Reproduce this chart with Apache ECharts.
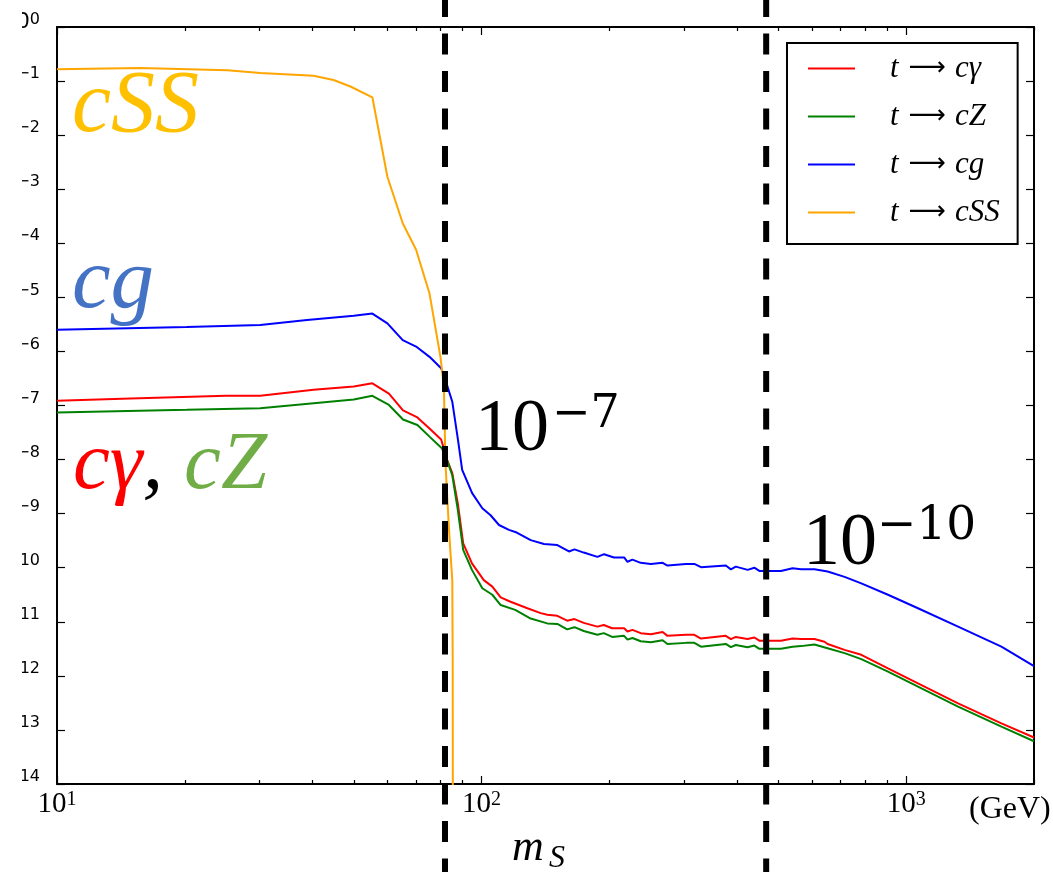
<!DOCTYPE html>
<html>
<head>
<meta charset="utf-8">
<script src="https://cdn.jsdelivr.net/npm/echarts@6/dist/echarts.min.js"></script>
<style>
  html, body { margin: 0; padding: 0; background: #fff; }
  #chart { width: 1053px; height: 872px; }
</style>
</head>
<body>
<div id="chart"></div>
<script>
// Scalar mass m_S (GeV) and log10 of the branching ratio for each top decay channel
const cGammaMass = [10, 14.9, 25, 30.1, 40.2, 50, 55.3, 60.5, 65.3, 70.6, 75.5, 80.3, 82.9, 85.3, 87.9, 90.5, 94.9, 101.2, 106, 110.9, 117, 128.2, 137.8, 142.8, 150.8, 159, 165.5, 174, 187.4, 194, 203, 216.6, 220.6, 226.6, 237, 250.4, 266.9, 274, 303, 317, 328.6, 376, 386.4, 397, 423, 439, 451, 507, 540, 565, 608, 642, 653, 716, 784, 906, 1066, 1325, 1676, 2000];
const cGammaLogBR = [-6.91, -6.87, -6.82, -6.82, -6.71, -6.65, -6.59, -6.78, -7.09, -7.22, -7.43, -7.63, -8.00, -8.25, -8.81, -9.55, -9.92, -10.23, -10.35, -10.55, -10.63, -10.75, -10.84, -10.87, -10.89, -10.98, -10.95, -11.02, -11.09, -11.06, -11.12, -11.12, -11.18, -11.15, -11.21, -11.23, -11.19, -11.26, -11.24, -11.24, -11.31, -11.26, -11.32, -11.28, -11.32, -11.29, -11.35, -11.35, -11.31, -11.32, -11.32, -11.37, -11.41, -11.52, -11.61, -11.86, -12.14, -12.51, -12.88, -13.14];

const cZMass = [10, 20.2, 30.1, 50, 55.3, 60.5, 65.3, 70.6, 75.5, 80.6, 82.9, 85.3, 87.9, 90.5, 94.9, 100.4, 106, 110.9, 120, 130.5, 142.8, 150.8, 159, 165.5, 174, 187.4, 194, 203, 216.6, 220.6, 226.6, 237, 250.4, 266.9, 274, 303, 317, 328.6, 376, 386.4, 397, 423, 439, 451, 507, 540, 565, 608, 653, 716, 784, 906, 1066, 1325, 1676, 2000];
const cZLogBR = [-7.13, -7.08, -7.05, -6.89, -6.82, -6.99, -7.26, -7.36, -7.58, -7.79, -8.01, -8.29, -8.93, -9.67, -10.04, -10.38, -10.50, -10.69, -10.78, -10.94, -11.03, -11.04, -11.14, -11.10, -11.17, -11.24, -11.21, -11.28, -11.26, -11.33, -11.30, -11.36, -11.38, -11.34, -11.41, -11.39, -11.39, -11.46, -11.41, -11.47, -11.43, -11.47, -11.44, -11.50, -11.50, -11.46, -11.45, -11.42, -11.49, -11.58, -11.69, -11.92, -12.20, -12.57, -12.94, -13.21];

const cgMass = [10, 20.2, 30.1, 38.8, 50, 55.3, 60, 65.2, 70.1, 75.4, 80.3, 82.2, 85.3, 88, 90, 95, 100.4, 105, 109.9, 116, 121, 130.5, 140.3, 150.8, 160.6, 165.5, 174, 187.4, 194.3, 205, 216.6, 220.6, 226.6, 237, 250.4, 266.9, 274, 303, 317, 328.6, 376, 386.4, 397, 423.4, 438.8, 451, 507, 540, 565, 608, 653, 716, 784, 906, 1066, 1325, 1676, 2000];
const cgLogBR = [-5.60, -5.55, -5.51, -5.42, -5.34, -5.30, -5.48, -5.79, -5.91, -6.10, -6.31, -6.53, -6.93, -7.64, -8.19, -8.62, -8.90, -9.03, -9.21, -9.30, -9.35, -9.49, -9.56, -9.58, -9.70, -9.66, -9.72, -9.80, -9.75, -9.81, -9.81, -9.89, -9.85, -9.91, -9.93, -9.91, -9.96, -9.93, -9.93, -9.99, -9.96, -10.03, -9.98, -10.04, -10.00, -10.06, -10.06, -10.01, -10.03, -10.03, -10.07, -10.17, -10.29, -10.50, -10.75, -11.09, -11.46, -11.82];

const cSSMass = [10, 15.7, 25.2, 30.1, 40.2, 44.8, 49.1, 55.3, 60.0, 65.2, 70.1, 75.4, 80.0, 81.5, 82.2, 83.8, 85.3, 85.5, 85.6];
const cSSLogBR = [-0.78, -0.76, -0.80, -0.85, -0.90, -0.98, -1.10, -1.30, -2.77, -3.63, -4.12, -4.93, -6.10, -6.65, -8.06, -9.30, -10.23, -11.70, -16.0];

// Masses marked with vertical dashed lines
const thresholdMass = [82, 468];

// Tick positions
const majorMassTicks = [10, 100, 1000];
const minorMassTicks = [20, 30, 40, 50, 60, 70, 80, 90, 200, 300, 400, 500, 600, 700, 800, 900, 2000];
const brTickExponents = [0, -1, -2, -3, -4, -5, -6, -7, -8, -9, -10, -11, -12, -13, -14];

// Channel final states (legend reads "t → <final state>")
const finalStates = ['c\u03b3', 'cZ', 'cg', 'cSS'];
const seriesNames = finalStates.map(f => 't \u2192 ' + f);
const seriesColors = ['#ff0000', '#008000', '#0000ff', '#ffa500'];

const toPoints = (mass, logBR) => mass.map((m, i) => [m, Math.pow(10, logBR[i])]);
const curves = [
  toPoints(cGammaMass, cGammaLogBR),
  toPoints(cZMass, cZLogBR),
  toPoints(cgMass, cgLogBR),
  toPoints(cSSMass, cSSLogBR)
];

const brTicks = brTickExponents.map(e => Math.pow(10, e));
const massMin = 10, massMax = 2000, brMin = 1e-14, brMax = 1;

const serif = '"Liberation Serif", "DejaVu Serif", serif';
const dvSerif = '"DejaVu Serif", serif';
const sans = '"DejaVu Sans", sans-serif';

function powerLabel(v) {
  const e = Math.round(Math.log10(v));
  const s = e < 0 ? '\u2212' + (-e) : String(e);
  return '{b|10}{s|' + s + '}';
}

function massAxis(position, ticks, len, showLine, showLabel) {
  return {
    type: 'log', logBase: 10, min: massMin, max: massMax, position: position,
    axisLine: { show: showLine, onZero: false, lineStyle: { color: '#000', width: 2 } },
    axisTick: { show: true, inside: true, length: len, customValues: ticks, lineStyle: { color: '#000', width: 1.2 } },
    axisLabel: showLabel ? {
      show: true, customValues: majorMassTicks, margin: 6, formatter: powerLabel,
      rich: {
        b: { fontFamily: serif, fontSize: 29, lineHeight: 29, color: '#000', verticalAlign: 'bottom', padding: [5, 0, 0, 0] },
        s: { fontFamily: serif, fontSize: 20, lineHeight: 20, color: '#000', verticalAlign: 'top' }
      }
    } : { show: false },
    splitLine: { show: false },
    minorTick: { show: false }
  };
}

function brAxis(position, showLabel) {
  return {
    type: 'log', logBase: 10, min: brMin, max: brMax, position: position,
    axisLine: { show: true, onZero: false, lineStyle: { color: '#000', width: 2 } },
    axisTick: { show: true, inside: true, length: 8, customValues: brTicks, lineStyle: { color: '#000', width: 1.2 } },
    axisLabel: showLabel ? {
      show: true, customValues: brTicks, margin: 17, formatter: powerLabel, padding: [0, 0, 9, 0],
      rich: {
        b: { fontFamily: sans, fontSize: 21, lineHeight: 21, color: '#000', verticalAlign: 'bottom', padding: [6, 0, 0, 0] },
        s: { fontFamily: sans, fontSize: 16, lineHeight: 16, color: '#000', verticalAlign: 'top' }
      }
    } : { show: false },
    splitLine: { show: false }
  };
}

const chart = echarts.init(document.getElementById('chart'), null, { renderer: 'canvas' });

const lineSeries = curves.map((pts, i) => ({
  name: seriesNames[i],
  type: 'line',
  xAxisIndex: 0, yAxisIndex: 0,
  data: pts,
  symbol: 'none',
  showSymbol: false,
  smooth: false,
  color: seriesColors[i],
  lineStyle: { color: seriesColors[i], width: 2 },
  z: 3,
  animation: false
}));

chart.setOption({
  animation: false,
  backgroundColor: '#fff',
  grid: { left: 57, right: 19, top: 27, bottom: 88, outerBoundsMode: 'none', containLabel: false },
  xAxis: [
    massAxis('bottom', majorMassTicks, 8, true, true),
    massAxis('bottom', minorMassTicks, 4, false, false),
    massAxis('top', majorMassTicks, 8, true, false),
    massAxis('top', minorMassTicks, 4, false, false)
  ],
  yAxis: [brAxis('left', true), brAxis('right', false)],
  legend: {
    orient: 'vertical', left: 787, top: 43,
    padding: [10, 18, 16, 21],
    icon: 'rect',
    itemWidth: 47, itemHeight: 2, itemGap: 17,
    borderColor: '#000', borderWidth: 2, backgroundColor: '#fff',
    data: seriesNames,
    formatter: name => {
      const f = finalStates[seriesNames.indexOf(name)];
      return '{i|t}{a|\u27f6}{i|' + f + '}';
    },
    textStyle: {
      color: '#000', padding: [0, 0, 0, 30], lineHeight: 30,
      rich: {
        i: { fontFamily: serif, fontStyle: 'italic', fontSize: 31, lineHeight: 30, color: '#000' },
        a: { fontFamily: sans, fontSize: 26, lineHeight: 30, color: '#000', padding: [0, 9, 0, 10] }
      }
    },
    selectedMode: false,
    z: 10
  },
  series: lineSeries.concat([{
    type: 'custom',
    clip: false,
    silent: true,
    z: 6,
    xAxisIndex: 0, yAxisIndex: 0,
    data: thresholdMass.map(m => [m, brMax]),
    renderItem: (params, api) => {
      const x = api.coord([api.value(0), api.value(1)])[0];
      return {
        type: 'line',
        shape: { x1: x, y1: -4, x2: x, y2: 880 },
        style: { stroke: '#000', lineWidth: 6, lineDash: [21, 16.5] }
      };
    }
  }]),
  graphic: [
    // frame edge hiding the left part of the tick labels
    { type: 'rect', shape: { x: 0, y: 0, width: 22, height: 790 }, style: { fill: '#fff' }, z: 100, silent: true },
    { type: 'text', x: 72, y: 108, style: { text: 'cSS', font: 'italic 88px ' + serif, fill: '#ffc000', verticalAlign: 'middle' }, z: 20 },
    { type: 'text', x: 72, y: 284, style: { text: 'cg', font: 'italic 87px ' + serif, fill: '#4472c4', verticalAlign: 'middle' }, z: 20 },
    { type: 'text', x: 73, y: 466, style: {
        text: '{r|c\u03b3}{k|, }{g|cZ}', verticalAlign: 'middle',
        rich: {
          r: { font: 'italic 83px ' + serif, fill: '#ff0000' },
          k: { font: 'italic 83px ' + serif, fill: '#000' },
          g: { font: 'italic 83px ' + serif, fill: '#70ad47' }
        }
      }, z: 20 },
    { type: 'text', x: 475, y: 431, style: { text: '10', font: '74px ' + serif, fill: '#000', verticalAlign: 'middle' }, z: 20 },
    { type: 'text', x: 552, y: 415, style: { text: '\u22127', font: '46px ' + dvSerif, fill: '#000', verticalAlign: 'middle' }, z: 20 },
    { type: 'text', x: 803, y: 545, style: { text: '10', font: '74px ' + serif, fill: '#000', verticalAlign: 'middle' }, z: 20 },
    { type: 'text', x: 877, y: 527, style: { text: '\u221210', font: '47px ' + dvSerif, fill: '#000', verticalAlign: 'middle' }, z: 20 },
    { type: 'text', x: 969, y: 810, style: { text: '(GeV)', font: '32px ' + serif, fill: '#000', verticalAlign: 'middle' }, z: 20 },
    { type: 'text', x: 512, y: 848, style: { text: 'm', font: 'italic 44px ' + serif, fill: '#000', verticalAlign: 'middle' }, z: 20 },
    { type: 'text', x: 549, y: 859, style: { text: 'S', font: 'italic 32px ' + serif, fill: '#000', verticalAlign: 'middle' }, z: 20 }
  ]
});
</script>
</body>
</html>
